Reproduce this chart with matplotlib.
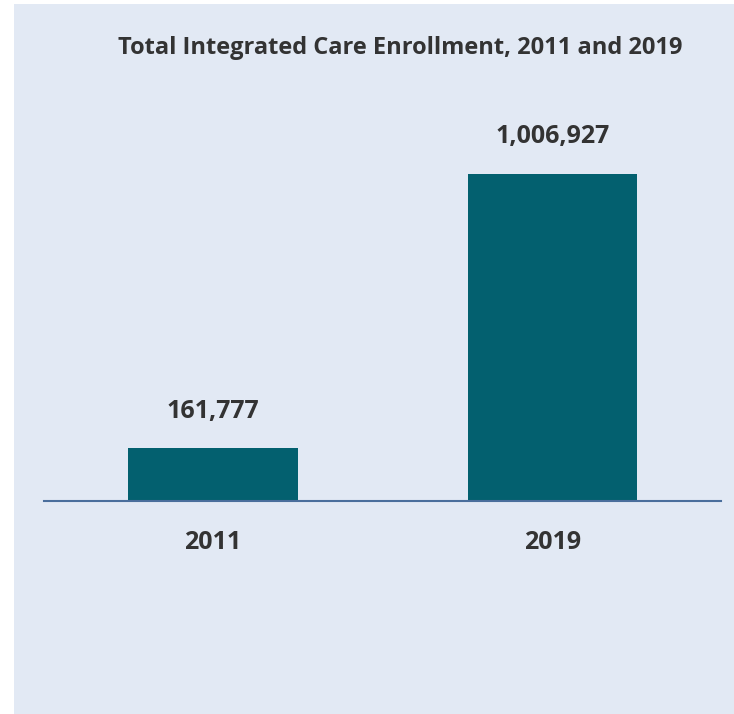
import matplotlib.pyplot as plt
import matplotlib.patches as mpatches

# data
years = ['2011', '2019']
enrollment = [161777, 1006927]
title = 'Total Integrated Care Enrollment, 2011 and 2019'

bg = '#E2E9F4'
bar_color = '#03606F'
text_color = '#333333'
plt.rcParams['font.family'] = ['Open Sans', 'DejaVu Sans']

W, H = 734, 714
fig = plt.figure(figsize=(W / 100, H / 100), dpi=100)
fig.patch.set_facecolor('white')

# light panel behind everything
fig.patches.append(mpatches.Rectangle((14 / W, 0), 1 - 14 / W, 1 - 4 / H,
                                      transform=fig.transFigure, facecolor=bg,
                                      edgecolor='none', zorder=-5))

ax = fig.add_axes([44 / W, (H - 501) / H, (721 - 44) / W, (501 - 111) / H])
ax.set_facecolor('none')
ax.set_zorder(2)

x = range(len(years))
bars = ax.bar(x, enrollment, width=0.5, color=bar_color)
ax.set_xlim(-0.498, 1.496)
ax.set_ylim(0, 1.2e6)

for b, v in zip(bars, enrollment):
    ax.annotate(f'{v:,}', (b.get_x() + b.get_width() / 2, v),
                xytext=(0, 22), textcoords='offset points', ha='center', va='baseline',
                fontsize=18, fontweight='bold', color=text_color)

ax.set_xticks(list(x))
ax.set_xticklabels(years, fontsize=18, fontweight='bold', color=text_color)
ax.tick_params(axis='x', length=0, pad=21)
ax.set_yticks([])
for s in ['top', 'right', 'left']:
    ax.spines[s].set_visible(False)
ax.spines['bottom'].set_color('#4A6E9C')
ax.spines['bottom'].set_linewidth(1.5)

fig.text(400 / W, 1 - 48 / H, title, ha='center', va='center',
         fontsize=17, fontweight='bold', color=text_color)

fig.savefig('out.png', dpi=100, facecolor='white')
